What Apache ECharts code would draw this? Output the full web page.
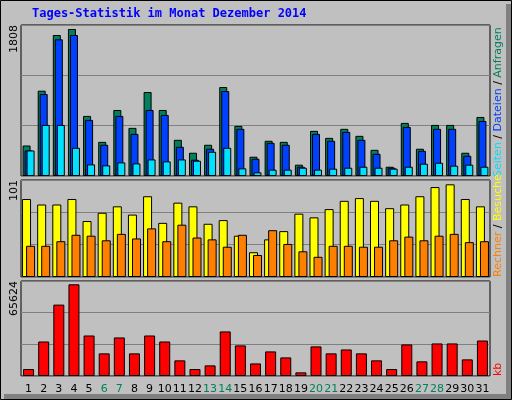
<!DOCTYPE html>
<html><head><meta charset="utf-8">
<script src="https://cdn.jsdelivr.net/npm/echarts@6/dist/echarts.min.js"></script>
<style>html,body{margin:0;padding:0;background:#c0c0c0}#c{width:512px;height:400px}</style>
</head><body><div id="c"></div>
<script>
const days = Array.from({length:31},(_,i)=>String(i+1));
const weekend = ['6','7','13','14','20','21','27','28'];
const anfragen = [375,1049,1734,1808,739,420,812,592,1033,812,445,286,384,1094,616,237,433,420,139,555,469,580,494,322,114,653,335,628,628,286,726];
const dateien  = [314,1008,1681,1734,690,384,739,518,812,751,359,200,335,1045,580,212,408,384,114,518,433,543,445,273,102,604,310,580,580,249,677];
const seiten   = [314,628,628,347,143,131,167,155,204,180,204,188,298,347,94,45,78,78,102,78,90,102,114,102,90,114,151,163,127,139,114];
const besuche  = [85,79,79,85,61,70,77,68,88,59,81,77,58,62,45,27,41,50,69,65,74,83,86,83,75,79,88,98,101,85,77];
const rechner  = [34,34,39,46,45,40,47,42,53,39,57,43,41,33,46,24,51,36,28,22,34,34,33,33,40,44,40,45,47,38,39];
const kb = [5000,24700,51100,65624,29000,16200,27600,16200,29000,24700,11200,5000,7600,31900,21900,9000,17600,13300,2600,21200,16200,19000,16200,11200,5000,22600,10500,23300,23300,11900,25400];
const maxLabels = ['1808','101','65624'];

const M1=1857, M2=105.7, M3=68000;
const grids=[{left:21,width:469,top:25,height:151},{left:21,width:469,top:180,height:97},{left:21,width:469,top:281,height:95}]
  .map(g=>Object.assign(g,{show:true,borderColor:'#000',borderWidth:1,backgroundColor:'transparent'}));
function xa(i,labels){return {type:'category',gridIndex:i,data:days,axisLine:{show:false},axisTick:{show:false},
  axisLabel:labels?{show:true,margin:8,fontFamily:'DejaVu Sans',fontSize:11,interval:0,
    formatter:v=>weekend.includes(v)?'{w|'+v+'}':'{n|'+v+'}',
    rich:{w:{color:'#00805c',fontSize:11,fontFamily:'DejaVu Sans'},n:{color:'#000',fontSize:11,fontFamily:'DejaVu Sans'}}}:{show:false}};}
function ya(i,M){return {type:'value',gridIndex:i,min:0,max:M,interval:M/3,axisLabel:{show:false},axisLine:{show:false},axisTick:{show:false},
  splitLine:{show:true,lineStyle:{color:'#808080',width:1}}};}
const bs={borderColor:'#000',borderWidth:1};
function bar(name,data,i,color,w,gap){return {name,type:'bar',xAxisIndex:i,yAxisIndex:i,data,barWidth:w,barGap:gap,
  itemStyle:Object.assign({color},bs),animation:false};}
const rt={fontFamily:'DejaVu Sans',fontSize:11};
const option={
  animation:false,
  grid:grids,
  xAxis:[xa(0,false),xa(1,false),xa(2,true)],
  yAxis:[ya(0,M1),ya(1,M2),ya(2,M3)],
  series:[
    bar('Anfragen',anfragen,0,'#00805c',8,'-75%'),
    bar('Dateien',dateien,0,'#0040ff',8,'-75%'),
    bar('Seiten',seiten,0,'#00e0ff',8,'-75%'),
    bar('Besuche',besuche,1,'#ffff00',9,'-55%'),
    bar('Rechner',rechner,1,'#ff8000',9,'-55%'),
    bar('kb',kb,2,'#ff0000',11,'0%')
  ],
  graphic:[
    {type:'rect',shape:{x:0.5,y:0.5,width:511,height:399},style:{fill:null,stroke:'#000',lineWidth:1},z:-1},
    {type:'rect',shape:{x:506,y:4,width:5,height:395},style:{fill:'#808080'},z:-1},
    {type:'rect',shape:{x:4,y:394,width:507,height:5},style:{fill:'#808080'},z:-1},
    {type:'text',left:32,top:8,style:{text:'Tages-Statistik im Monat Dezember 2014',fill:'#0000ff',font:'bold 12px "DejaVu Sans Mono"'}},
    {type:'text',x:9,y:25,rotation:Math.PI/2,style:{text:maxLabels[0],fill:'#000',font:'11px "DejaVu Sans"',align:'right',verticalAlign:'top'}},
    {type:'text',x:9,y:180,rotation:Math.PI/2,style:{text:maxLabels[1],fill:'#000',font:'11px "DejaVu Sans"',align:'right',verticalAlign:'top'}},
    {type:'text',x:9,y:281,rotation:Math.PI/2,style:{text:maxLabels[2],fill:'#000',font:'11px "DejaVu Sans"',align:'right',verticalAlign:'top'}},
    {type:'text',x:493,y:177,rotation:Math.PI/2,style:{text:'{c|Seiten} / {d|Dateien} / {a|Anfragen}',align:'left',verticalAlign:'top',
      rich:{c:Object.assign({fill:'#00e0ff'},rt),d:Object.assign({fill:'#0040ff'},rt),a:Object.assign({fill:'#00805c'},rt)},font:'11px "DejaVu Sans"',fill:'#000'}},
    {type:'text',x:493,y:277,rotation:Math.PI/2,style:{text:'{r|Rechner} / {b|Besuche}',align:'left',verticalAlign:'top',
      rich:{r:Object.assign({fill:'#ff8000'},rt),b:Object.assign({fill:'#ffff00'},rt)},font:'11px "DejaVu Sans"',fill:'#000'}},
    {type:'text',x:493,y:376,rotation:Math.PI/2,style:{text:'kb',fill:'#ff0000',font:'11px "DejaVu Sans"',align:'left',verticalAlign:'top'}}
  ]
};
echarts.init(document.getElementById('c')).setOption(option);
</script></body></html>
